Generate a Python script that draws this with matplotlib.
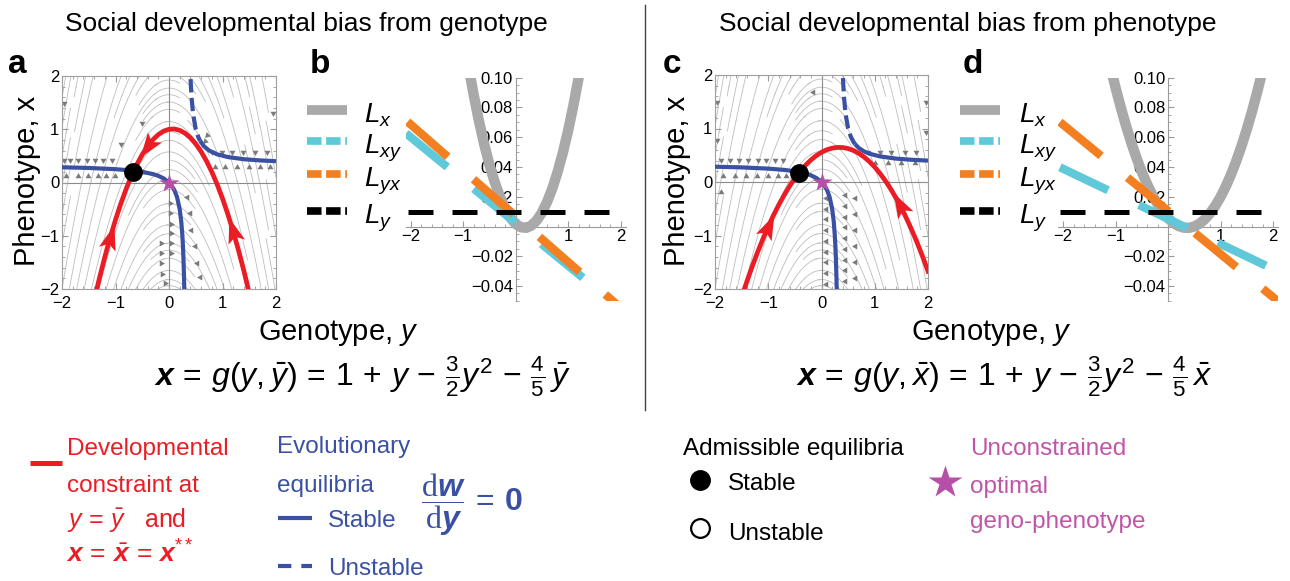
import numpy as np
import matplotlib
matplotlib.use('Agg')
import matplotlib.pyplot as plt
from matplotlib.lines import Line2D
from matplotlib.markers import MarkerStyle
from matplotlib.path import Path
from matplotlib.transforms import Affine2D
from matplotlib.ticker import MultipleLocator, FixedLocator, FuncFormatter

plt.rcParams['font.family'] = ['Liberation Sans', 'DejaVu Sans']
plt.rcParams['mathtext.fontset'] = 'custom'
plt.rcParams['mathtext.rm'] = 'Liberation Sans'
plt.rcParams['mathtext.it'] = 'Liberation Sans:italic'
plt.rcParams['mathtext.bf'] = 'Liberation Sans:bold'
plt.rcParams['mathtext.bfit'] = 'Liberation Sans:bold:italic'
plt.rcParams['mathtext.sf'] = 'Liberation Serif'

# ---------------- data: panels a and c (genotype y, phenotype x) ----------------
red_a_y = [-1.4, -1.3, -1.2, -1.1, -1.0, -0.9, -0.8, -0.7, -0.6, -0.5, -0.4, -0.3, -0.2, -0.1,
           0.0, 0.1, 0.2, 0.3, 0.4, 0.5, 0.6, 0.7, 0.8, 0.9, 1.0, 1.1, 1.2, 1.3, 1.4, 1.5]
red_a_x = [-2.22, -1.795, -1.40, -1.035, -0.70, -0.395, -0.12, 0.125, 0.34, 0.525, 0.68, 0.805,
           0.90, 0.965, 1.0, 1.005, 0.98, 0.925, 0.84, 0.725, 0.58, 0.405, 0.20, -0.035, -0.30,
           -0.595, -0.92, -1.275, -1.66, -2.075]
red_a_arrow_y = [-1.1, -0.39, 1.2]
red_a_arrow_dir = [1, -1, -1]

red_c_y = [-1.5, -1.4, -1.3, -1.2, -1.1, -1.0, -0.9, -0.8, -0.7, -0.6, -0.5, -0.4, -0.3, -0.2,
           -0.1, 0.0, 0.1, 0.2, 0.3, 0.4, 0.5, 0.6, 0.7, 0.8, 0.9, 1.0, 1.1, 1.2, 1.3, 1.4, 1.5,
           1.6, 1.7, 1.8, 1.9, 2.0]
red_c_x = [-2.153, -1.856, -1.575, -1.311, -1.064, -0.833, -0.619, -0.422, -0.242, -0.078, 0.069,
           0.200, 0.314, 0.411, 0.492, 0.556, 0.603, 0.633, 0.647, 0.644, 0.625, 0.589, 0.536,
           0.467, 0.381, 0.278, 0.158, 0.022, -0.131, -0.300, -0.486, -0.689, -0.908, -1.144,
           -1.397, -1.667]
red_c_arrow_y = [-1.0, 1.47]
red_c_arrow_dir = [1, -1]

blue_left_y = [-2.0, -1.5, -1.0, -0.7, -0.5, -0.3, -0.2, -0.1, 0.0, 0.05, 0.1, 0.15, 0.2, 0.23,
               0.25, 0.26, 0.27, 0.28, 0.285, 0.29]
blue_left_x = [0.286, 0.273, 0.25, 0.226, 0.2, 0.158, 0.125, 0.077, 0.0, -0.059, -0.143, -0.273,
               -0.5, -0.742, -1.0, -1.182, -1.421, -1.75, -1.966, -2.231]
blue_unst_a_y = [0.39, 0.40, 0.42, 0.45, 0.50, 0.55, 0.58]
blue_unst_a_x = [2.293, 2.0, 1.615, 1.286, 1.0, 0.846, 0.784]
blue_st_a_y = [0.58, 0.65, 0.75, 0.9, 1.1, 1.4, 1.7, 2.0]
blue_st_a_x = [0.784, 0.684, 0.6, 0.529, 0.478, 0.437, 0.415, 0.4]
blue_unst_c_y = [0.39, 0.40, 0.42, 0.45, 0.50, 0.55, 0.60, 0.63]
blue_unst_c_x = [2.293, 2.0, 1.615, 1.286, 1.0, 0.846, 0.75, 0.708]
blue_st_c_y = [0.63, 0.7, 0.8, 0.9, 1.1, 1.4, 1.7, 2.0]
blue_st_c_x = [0.708, 0.636, 0.571, 0.529, 0.478, 0.437, 0.415, 0.4]

eq_a = (-0.68, 0.20)
eq_c = (-0.42, 0.17)
optimum = (0.0, 0.0)
stream_curvature = 1.5   # gray developmental trajectories bend like the constraint parabola

arr_a_y = [-1.96, 1.95,
           -1.96, -1.85, -1.70, -1.54, -1.39, -1.23, -1.07,
           -1.92, -1.70, -1.51, -1.32, -1.17, -1.01,
           -0.89, -0.50, -0.48,
           0.80, 0.99, 1.17, 1.39, 1.61, 1.83,
           0.86, 1.05, 1.27, 1.49, 1.70, 1.89,
           0.71, 0.67,
           0.02, 0.02, 0.03, 0.03, 0.04, 0.04, -0.15, -0.15, -0.15, -0.13, -0.07,
           0.33, 0.39, 0.42, 0.49, 0.52, 0.58]
arr_a_x = [1.49, 1.30,
           0.43, 0.43, 0.43, 0.43, 0.43, 0.43, 0.43,
           0.13, 0.13, 0.13, 0.13, 0.13, 0.13,
           0.72, 1.11, 0.20,
           0.58, 0.58, 0.58, 0.58, 0.58, 0.58,
           0.30, 0.30, 0.30, 0.30, 0.30, 0.30,
           0.89, 0.77,
           -0.39, -0.58, -0.77, -0.95, -1.14, -1.33, -1.14, -1.33, -1.52, -1.71, -1.89,
           -0.27, -0.58, -0.89, -1.20, -1.52, -1.77]
arr_a_ang = [180, 180,
             180, 180, 180, 180, 180, 180, 180,
             0, 0, 0, 0, 0, 0,
             180, 180, 0,
             180, 180, 180, 180, 180, 180,
             0, 0, 0, 0, 0, 0,
             135, 135,
             -90, -90, -90, -90, -90, -90, -90, -90, -90, -90, -90,
             90, 90, 90, 90, 90, 90]

arr_c_y = [-1.97, -1.97, 1.96, 1.96, -0.16,
           -1.88, -1.72, -1.54, -1.38, -1.19, -1.04, -0.88, -0.72,
           -1.85, -1.63, -1.41, -1.22, -1.00, -0.82, -0.66, -1.88,
           0.87, 1.09, 1.31, 1.56, 1.78,
           1.00, 1.25, 1.50, 1.75,
           0.08, 0.08, 0.08, 0.08, 0.08, 0.08, 0.08, 0.08, 0.08,
           0.45, 0.45, 0.45, 0.45, 0.45, 0.45, 0.45, 0.45, 0.45,
           0.62, 0.62, 0.62, 0.62, 0.62, 0.62]
arr_c_x = [1.50, 0.78, 1.50, 0.94, 1.69,
           0.42, 0.42, 0.42, 0.42, 0.42, 0.42, 0.42, 0.42,
           0.11, 0.11, 0.11, 0.11, 0.11, 0.11, 0.11, -0.18,
           0.57, 0.57, 0.57, 0.57, 0.57,
           0.35, 0.35, 0.35, 0.35,
           -0.3, -0.5, -0.7, -0.9, -1.1, -1.3, -1.5, -1.7, -1.9,
           -0.25, -0.45, -0.65, -0.85, -1.05, -1.25, -1.45, -1.65, -1.85,
           -0.3, -0.6, -0.9, -1.2, -1.5, -1.8]
arr_c_ang = [180, 180, 180, 180, 90,
             180, 180, 180, 180, 180, 180, 180, 180,
             0, 0, 0, 0, 0, 0, 0, 0,
             180, 180, 180, 180, 180,
             0, 0, 0, 0,
             90, 90, 90, 90, 90, 90, 90, 90, 90,
             90, 90, 90, 90, 90, 90, 90, 90, 90,
             90, 90, 90, 90, 90, 90]

# ---------------- data: panels b and d ----------------
Lx_b_y = [-0.9, -0.8, -0.7, -0.6, -0.5, -0.4, -0.3, -0.2, -0.1, 0.0, 0.1, 0.2, 0.3, 0.4, 0.5,
          0.6, 0.7, 0.8, 0.9, 1.0, 1.1, 1.2, 1.3]
Lx_b = [0.1078, 0.0884, 0.0709, 0.0553, 0.0416, 0.0299, 0.0200, 0.0120, 0.0059, 0.0017, -0.0005,
        -0.0009, 0.0006, 0.0040, 0.0093, 0.0166, 0.0257, 0.0367, 0.0496, 0.0644, 0.0812, 0.0998,
        0.1203]
Lxy_b_y = [-2.09, 2.1]
Lxy_b = [0.0626, -0.058]
Lyx_b_y = [-2.06, 2.1]
Lyx_b = [0.0704, -0.0577]
Ly_b_y = [-2.06, 2.1]
Ly_b = [0.01, 0.01]

Lx_d_y = [-1.2, -1.1, -1.0, -0.9, -0.8, -0.7, -0.6, -0.5, -0.4, -0.3, -0.2, -0.1, 0.0, 0.1, 0.2,
          0.3, 0.4, 0.5, 0.6, 0.7, 0.8, 0.9, 1.0, 1.1, 1.2, 1.3, 1.4, 1.5, 1.6, 1.7, 1.8, 1.9]
Lx_d = [0.1231, 0.1077, 0.0933, 0.0800, 0.0676, 0.0563, 0.0460, 0.0367, 0.0285, 0.0212, 0.0150,
        0.0098, 0.0056, 0.0024, 0.0003, -0.0008, -0.0009, 0.0000, 0.0019, 0.0049, 0.0089, 0.0139,
        0.0199, 0.0269, 0.0350, 0.0441, 0.0542, 0.0653, 0.0774, 0.0906, 0.1048, 0.1200]
Lxy_d_y = [-2.06, 2.1]
Lxy_d = [0.0398, -0.0303]
Lyx_d_y = [-2.06, 2.1]
Lyx_d = [0.0702, -0.0504]
Ly_d_y = [-2.06, 2.1]
Ly_d = [0.01, 0.01]

legend_labels = [r'$L_x$', r'$L_{xy}$', r'$L_{yx}$', r'$L_y$']

# ---------------- styling ----------------
RED = '#ec1c24'
BLUE = '#3a50a3'
GRAY_L = '#a9a9a9'
CYAN = '#5fc9d9'
ORANGE = '#f47f20'
MAGENTA = '#b64fa5'
MAG_TXT = '#c055a8'

W, H = 1290, 581
fig = plt.figure(figsize=(W / 100, H / 100), dpi=100)


def box(l, t, r, b):
    return [l / W, 1 - b / H, (r - l) / W, (b - t) / H]


def ftext(x, y, s, **kw):
    return fig.text(x / W, 1 - y / H, s, **kw)


def fline(xs, ys, **kw):
    fig.add_artist(Line2D([v / W for v in xs], [1 - v / H for v in ys],
                          transform=fig.transFigure, **kw))


dart = Path([(1, 0), (-0.8, 0.62), (-0.4, 0), (-0.8, -0.62), (1, 0)],
            [Path.MOVETO, Path.LINETO, Path.LINETO, Path.LINETO, Path.CLOSEPOLY])


def phase_panel(ax, red_y, red_x, ra_y, ra_dir, unst_y, unst_x, st_y, st_x, eq, ay, ax_, aang):
    ax.set_xlim(-2, 2)
    ax.set_ylim(-2, 2)
    xs = np.linspace(-2, 2, 61)
    ys = np.linspace(-2, 2, 61)
    XX, YY = np.meshgrid(xs, ys)
    U = np.ones_like(XX)
    V = -2 * stream_curvature * XX
    ax.streamplot(xs, ys, U, V, density=1.0, color='#bdbdbd', linewidth=0.6,
                  arrowstyle='-', zorder=1)
    ax.axhline(0, color='#8a8a8a', lw=0.8, zorder=1.5)
    ax.axvline(0, color='#8a8a8a', lw=0.8, zorder=1.5)
    for a_y, a_x, a_a in zip(ay, ax_, aang):
        ax.plot([a_y], [a_x], marker=(3, 0, a_a), ms=5, color='#7a7a7a', mec='none', zorder=2)
    ax.plot(blue_left_y, blue_left_x, color=BLUE, lw=3, solid_capstyle='butt', zorder=3)
    ax.plot(st_y, st_x, color=BLUE, lw=3, solid_capstyle='butt', zorder=3)
    ax.plot(unst_y, unst_x, color=BLUE, lw=3, dashes=(3.2, 1.3), zorder=3)
    ax.plot(red_y, red_x, color=RED, lw=3.4, zorder=4)
    for gy, d in zip(ra_y, ra_dir):
        px = np.interp(gy, red_y, red_x)
        px2 = np.interp(gy + 0.02 * d, red_y, red_x)
        p1 = ax.transData.transform((gy, px))
        p2 = ax.transData.transform((gy + 0.02 * d, px2))
        ang = np.degrees(np.arctan2(p2[1] - p1[1], p2[0] - p1[0]))
        ms = MarkerStyle(dart, transform=Affine2D().rotate_deg(ang))
        ax.plot([gy], [px], marker=ms, ms=20, color=RED, mec='none', zorder=5)
    ax.plot([eq[0]], [eq[1]], 'o', ms=12.5, color='black', zorder=6)
    ax.plot([optimum[0]], [optimum[1]], marker='*', ms=15, color=MAGENTA, mec='none', zorder=6)
    ax.set_xticks([-2, -1, 0, 1, 2])
    ax.set_yticks([-2, -1, 0, 1, 2])
    fmt = FuncFormatter(lambda v, _: f'{v:.0f}'.replace('-', '\u2212'))
    ax.xaxis.set_major_formatter(fmt)
    ax.yaxis.set_major_formatter(fmt)
    ax.xaxis.set_minor_locator(MultipleLocator(0.2))
    ax.yaxis.set_minor_locator(MultipleLocator(0.2))
    ax.tick_params(which='both', direction='in', color='#9a9a9a', labelsize=12, pad=2,
                   top=True, right=True)
    ax.tick_params(axis='x', which='major', pad=5)
    ax.tick_params(which='major', length=4)
    ax.tick_params(which='minor', length=2)
    for s in ax.spines.values():
        s.set_color('#a0a0a0')
        s.set_linewidth(0.8)


def bias_panel(ax, lx_y, lx, lxy_y, lxy, lyx_y, lyx, ly_y, ly):
    ax.set_xlim(-2.1, 2.1)
    ax.set_ylim(-0.05, 0.10)
    ax.set_axisbelow(True)
    for s in ['top', 'right']:
        ax.spines[s].set_visible(False)
    ax.spines['left'].set_position(('data', 0))
    ax.spines['bottom'].set_position(('data', 0))
    for s in ['left', 'bottom']:
        ax.spines[s].set_color('#9a9a9a')
        ax.spines[s].set_linewidth(0.8)
        ax.spines[s].set_zorder(0.5)
    ax.patch.set_visible(False)
    ax.plot(lx_y, lx, color=GRAY_L, lw=7.5, solid_capstyle='butt', zorder=2)
    ax.plot(lxy_y, lxy, color=CYAN, lw=6, dashes=(6.4, 4.1), dash_capstyle='butt', zorder=3)
    ax.plot(lyx_y, lyx, color=ORANGE, lw=6, dashes=(6.4, 4.1), dash_capstyle='butt', zorder=4)
    ax.plot(ly_y, ly, color='black', lw=3.6, dashes=(5.0, 3.8), dash_capstyle='butt', zorder=5)
    ax.xaxis.set_major_locator(FixedLocator([-2, -1, 1, 2]))
    ax.yaxis.set_major_locator(FixedLocator([-0.04, -0.02, 0.02, 0.04, 0.06, 0.08, 0.10]))
    ax.xaxis.set_major_formatter(FuncFormatter(lambda v, _: f'{v:.0f}'.replace('-', '\u2212')))
    ax.yaxis.set_major_formatter(FuncFormatter(lambda v, _: f'{v:.2f}'.replace('-', '\u2212')))
    ax.xaxis.set_minor_locator(MultipleLocator(0.2))
    ax.yaxis.set_minor_locator(MultipleLocator(0.005))
    ax.tick_params(which='both', direction='in', color='#9a9a9a', labelsize=12, pad=2)
    ax.tick_params(which='major', length=4)
    ax.tick_params(which='minor', length=2)


ax_a = fig.add_axes(box(62, 76, 276, 289))
ax_b = fig.add_axes(box(405.5, 77.7, 625.8, 300.9))
ax_c = fig.add_axes(box(715, 75, 928, 289))
ax_d = fig.add_axes(box(1057.8, 77.7, 1278.3, 300.9))

phase_panel(ax_a, red_a_y, red_a_x, red_a_arrow_y, red_a_arrow_dir,
            blue_unst_a_y, blue_unst_a_x, blue_st_a_y, blue_st_a_x, eq_a, arr_a_y, arr_a_x, arr_a_ang)
phase_panel(ax_c, red_c_y, red_c_x, red_c_arrow_y, red_c_arrow_dir,
            blue_unst_c_y, blue_unst_c_x, blue_st_c_y, blue_st_c_x, eq_c, arr_c_y, arr_c_x, arr_c_ang)
bias_panel(ax_b, Lx_b_y, Lx_b, Lxy_b_y, Lxy_b, Lyx_b_y, Lyx_b, Ly_b_y, Ly_b)
bias_panel(ax_d, Lx_d_y, Lx_d, Lxy_d_y, Lxy_d, Lyx_d_y, Lyx_d, Ly_d_y, Ly_d)

# ---------------- legends for b and d ----------------
for x0, tx in [(307, 364), (960, 1019)]:
    rows = [110, 141, 174, 211]
    fline([x0, x0 + 40], [rows[0]] * 2, color=GRAY_L, lw=7, solid_capstyle='butt')
    fline([x0, x0 + 40], [rows[1]] * 2, color=CYAN, lw=5.5, dashes=(1.9, 0.6), dash_capstyle='butt')
    fline([x0, x0 + 40], [rows[2]] * 2, color=ORANGE, lw=5.5, dashes=(1.9, 0.6), dash_capstyle='butt')
    fline([x0, x0 + 40], [rows[3]] * 2, color='black', lw=5.5, dashes=(1.9, 0.6), dash_capstyle='butt')
    for r, lab in zip(rows, legend_labels):
        ftext(tx, r + 12.5, lab, fontsize=20, va='baseline', ha='left')

# ---------------- titles, labels ----------------
ftext(306, 31.5, 'Social developmental bias from genotype', fontsize=19, ha='center', va='baseline')
ftext(968, 31.5, 'Social developmental bias from phenotype', fontsize=19, ha='center', va='baseline')
fline([645, 645], [5, 410], color='#444444', lw=1.0)

for lx, lab in [(8, 'a'), (310, 'b'), (663, 'c'), (963, 'd')]:
    ftext(lx, 73, lab, fontsize=24, fontweight='bold', ha='left', va='baseline')

for cx in [27, 677]:
    ftext(cx, 181, 'Phenotype, x', fontsize=21, rotation=90, ha='center', va='center')
ftext(338, 340, r'Genotype, $y$', fontsize=21, ha='center', va='baseline')
ftext(991, 340, r'Genotype, $y$', fontsize=21, ha='center', va='baseline')

ftext(363, 386, r'$\mathbfit{x} \,=\, g(y, \bar{y}) \,=\, 1 \,+\, y \,-\, \frac{3}{2}y^2 \,-\, \frac{4}{5}\,\bar{y}$',
      fontsize=23, ha='center', va='baseline')
ftext(1004, 386, r'$\mathbfit{x} \,=\, g(y, \bar{x}) \,=\, 1 \,+\, y \,-\, \frac{3}{2}y^2 \,-\, \frac{4}{5}\,\bar{x}$',
      fontsize=23, ha='center', va='baseline')

# ---------------- bottom legend ----------------
fline([30, 62], [462.7, 462.7], color=RED, lw=3.6, solid_capstyle='butt')
ftext(67, 455, 'Developmental', fontsize=17.5, color=RED, va='baseline')
ftext(67, 491.7, 'constraint at', fontsize=17.5, color=RED, va='baseline')
ftext(67, 526.7, r'$y \,=\, \bar{y}$   and', fontsize=18, color=RED, va='baseline')
ftext(66, 563, r'$\mathbfit{x} \,=\, \bar{\mathbfit{x}} \,=\, \mathbfit{x}^{**}$', fontsize=19,
      color=RED, va='baseline')

ftext(277, 453, 'Evolutionary', fontsize=17.5, color=BLUE, va='baseline')
ftext(277, 491.7, 'equilibria', fontsize=17.5, color=BLUE, va='baseline')
fline([278, 312], [518, 518], color=BLUE, lw=3, solid_capstyle='butt')
ftext(328, 526.7, 'Stable', fontsize=17.5, color=BLUE, va='baseline')
fline([278, 312], [566, 566], color=BLUE, lw=3, dashes=(3.2, 2.4), dash_capstyle='butt')
ftext(328, 575, 'Unstable', fontsize=17.5, color=BLUE, va='baseline')
ftext(421, 505, r'$\dfrac{\mathsf{d}\mathbfit{w}}{\mathsf{d}\mathbfit{y}} \,=\, \mathbf{0}$',
      fontsize=23, color=BLUE, ha='left', va='center')

ftext(683, 455, 'Admissible equilibria', fontsize=17.5, color='black', va='baseline')
fig.add_artist(Line2D([700 / W], [1 - 480 / H], transform=fig.transFigure, marker='o',
                      ms=14, color='black', ls='none'))
ftext(728, 490, 'Stable', fontsize=17.5, va='baseline')
fig.add_artist(Line2D([700 / W], [1 - 528 / H], transform=fig.transFigure, marker='o',
                      ms=13.5, mfc='white', mec='black', mew=1.6, ls='none'))
ftext(728, 540, 'Unstable', fontsize=17.5, va='baseline')

fig.add_artist(Line2D([945 / W], [1 - 482 / H], transform=fig.transFigure, marker='*',
                      ms=25, color=MAGENTA, mec='none', ls='none'))
ftext(970, 455, 'Unconstrained', fontsize=17.5, color=MAG_TXT, va='baseline')
ftext(970, 493, 'optimal', fontsize=17.5, color=MAG_TXT, va='baseline')
ftext(970, 528, 'geno-phenotype', fontsize=17.5, color=MAG_TXT, va='baseline')

fig.savefig('out.png', dpi=100)
